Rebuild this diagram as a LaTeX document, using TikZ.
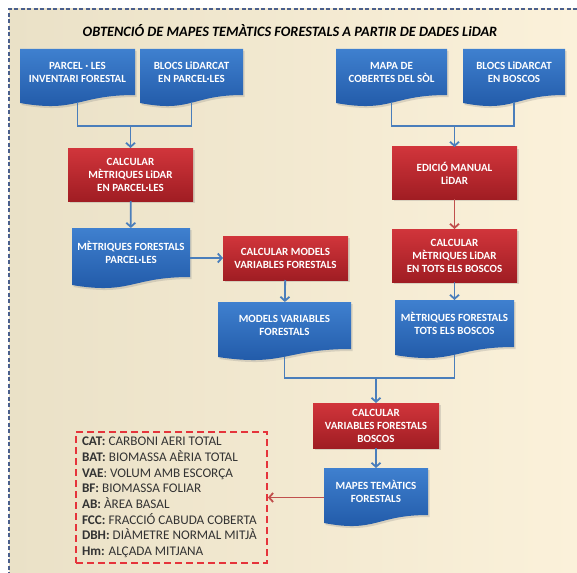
\documentclass[tikz,border=0pt]{standalone}
\usepackage{fontspec}
\setmainfont{Carlito}
\usetikzlibrary{calc}
\usetikzlibrary{arrows.meta}
\usetikzlibrary{shadows}
\usepackage{xcolor}
\definecolor{fonsclar}{HTML}{FBF1DA}
\definecolor{fonsfosc}{HTML}{EAE1C7}
\definecolor{blauclar}{HTML}{3F80CF}
\definecolor{blaufosc}{HTML}{1F57A5}
\definecolor{vermclar}{HTML}{D1353B}
\definecolor{vermfosc}{HTML}{A01D23}
\definecolor{liniablava}{HTML}{4A7EBB}
\definecolor{liniavermella}{HTML}{C0504D}
\definecolor{puntejat}{HTML}{E5343B}
\definecolor{vora}{HTML}{4A5F8C}
\pgfdeclarelayer{fons}
\pgfdeclarelayer{caixes}
\pgfsetlayers{fons,caixes,main}
\newcommand{\ondulada}[1]{%
	\begin{pgfonlayer}{caixes}
		\shade[top color=blauclar, bottom color=blaufosc, drop shadow={opacity=0.25, shadow xshift=1.5pt, shadow yshift=-2pt}] (#1.north west) -- (#1.north east) -- (#1.south east) .. controls (#1.south) and ($(#1.south)+(0,18)$) .. ($(#1.south west)+(0,8)$) -- cycle ;
	\end{pgfonlayer}
	\coordinate (#1-b) at ($(#1.south)+(0,7.5)$) ;}

\begin{document}
\begin{tikzpicture}[x=1pt, y=-1pt,
		texte/.style={text=white, font=\bfseries\fontsize{11}{13}\selectfont, align=center, inner sep=0pt, outer sep=0pt},
		doc/.style={texte, rectangle, minimum height=46pt},
		vermell/.style={texte, rectangle, minimum width=125pt, top color=vermclar, bottom color=vermfosc, drop shadow={opacity=0.25, shadow xshift=1.5pt, shadow yshift=-2pt}},
		linia/.style={draw=liniablava, line width=1.8pt},
		fletxa/.style={linia, -{Straight Barb[length=4pt,width=9pt]}},
		fletxavermella/.style={draw=liniavermella, line width=1.8pt, -{Straight Barb[length=4pt,width=9pt]}}]
	\useasboundingbox (0,0) rectangle (577,572) ;
	\begin{pgfonlayer}{fons}
		\shade[left color=fonsfosc, right color=fonsclar] (9,9) rectangle (577,572) ;
	\end{pgfonlayer}
	\draw[vora, line width=1.3pt, dash pattern=on 4pt off 2.5pt] (590,9) -- (9,9) -- (9,580) ;

	\node (titol) at (290,31) {\bfseries\itshape\fontsize{14.3}{16}\selectfont OBTENCIÓ DE MAPES TEMÀTICS FORESTALS A PARTIR DE DADES LiDAR} ;

	\node[doc, minimum width=115pt] (parcel) at (77.5,72) {PARCEL · LES\\INVENTARI  FORESTAL} ;
	\ondulada{parcel}
	\node[doc, minimum width=103pt] (blocsp) at (191.5,72) {BLOCS LiDARCAT\\EN PARCEL·LES} ;
	\ondulada{blocsp}
	\node[doc, minimum width=111pt] (cobertes) at (391.5,72) {MAPA DE\\COBERTES  DEL SÒL} ;
	\ondulada{cobertes}
	\node[doc, minimum width=102pt] (blocsb) at (514,72) {BLOCS LiDARCAT\\EN BOSCOS} ;
	\ondulada{blocsb}

	\node[vermell, minimum height=53pt] (calcp) at (130.5,174.5) {CALCULAR\\MÈTRIQUES  LiDAR\\EN PARCEL·LES} ;
	\node[doc, minimum width=118pt, minimum height=49pt] (metp) at (131,252.5) {MÈTRIQUES  FORESTALS\\PARCEL·LES} ;
	\ondulada{metp}
	\node[vermell, minimum height=44pt] (calcm) at (285.5,258) {CALCULAR  MODELS\\VARIABLES  FORESTALS} ;
	\node[doc, minimum width=133pt, minimum height=47pt] (models) at (284.5,325.5) {MODELS  VARIABLES\\FORESTALS} ;
	\ondulada{models}

	\node[vermell, minimum height=52pt] (edicio) at (454.5,173) {EDICIÓ  MANUAL\\LiDAR} ;
	\node[vermell, minimum height=53pt] (calct) at (454.5,255.5) {CALCULAR\\MÈTRIQUES  LiDAR\\EN TOTS  ELS  BOSCOS} ;
	\node[doc, minimum width=119pt, minimum height=47pt] (mett) at (454.5,323.5) {MÈTRIQUES  FORESTALS\\TOTS  ELS  BOSCOS} ;
	\ondulada{mett}

	\node[vermell, minimum width=126pt, minimum height=45pt] (calcv) at (376,425.5) {CALCULAR\\VARIABLES  FORESTALS\\BOSCOS} ;
	\node[doc, minimum width=104pt, minimum height=47pt] (mapes) at (376,491.5) {MAPES TEMÀTICS\\FORESTALS} ;
	\ondulada{mapes}

	\node[draw=puntejat, line width=1.8pt, dash pattern=on 7pt off 4pt, minimum width=191pt, minimum height=131pt, inner xsep=6pt, text width=179pt, align=flush left, text=black!80, font=\fontsize{13.2}{15.7}\selectfont] (llegenda) at (171.5,497.5) {\textbf{CAT:} CARBONI AERI TOTAL\\\textbf{BAT:} BIOMASSA AÈRIA TOTAL\\\textbf{VAE}: VOLUM AMB ESCORÇA\\\textbf{BF:} BIOMASSA FOLIAR\\\textbf{AB:} ÀREA BASAL\\\textbf{FCC:} FRACCIÓ CABUDA COBERTA\\\textbf{DBH:} DIÀMETRE NORMAL MITJÀ\\\textbf{Hm:} ALÇADA MITJANA} ;

	\coordinate (unio1) at (130.5,126) ;
	\coordinate (unio2) at (454.5,126) ;
	\coordinate (unio3) at (376,378) ;
	\draw[linia] (parcel-b) |- (unio1) ;
	\draw[linia] (blocsp-b) |- (unio1) ;
	\draw[fletxa] (unio1) -- (calcp) ;
	\draw[fletxa] (calcp) -- (metp) ;
	\draw[fletxa] (metp.east |- calcm.west) -- (calcm.west) ;
	\draw[fletxa] (calcm) -- (models) ;
	\draw[linia] (cobertes-b) |- (unio2) ;
	\draw[linia] (blocsb-b) |- (unio2) ;
	\draw[fletxa] (unio2) -- (edicio) ;
	\draw[fletxavermella] (edicio) -- (calct) ;
	\draw[fletxa] (calct) -- (mett) ;
	\draw[linia] (models-b) |- (unio3) ;
	\draw[linia] (mett-b) |- (unio3) ;
	\draw[fletxa] (unio3) -- (calcv) ;
	\draw[fletxa] (calcv) -- (mapes) ;
	\draw[fletxavermella] (mapes.west |- llegenda.east) -- (llegenda.east) ;
\end{tikzpicture}
\end{document}
